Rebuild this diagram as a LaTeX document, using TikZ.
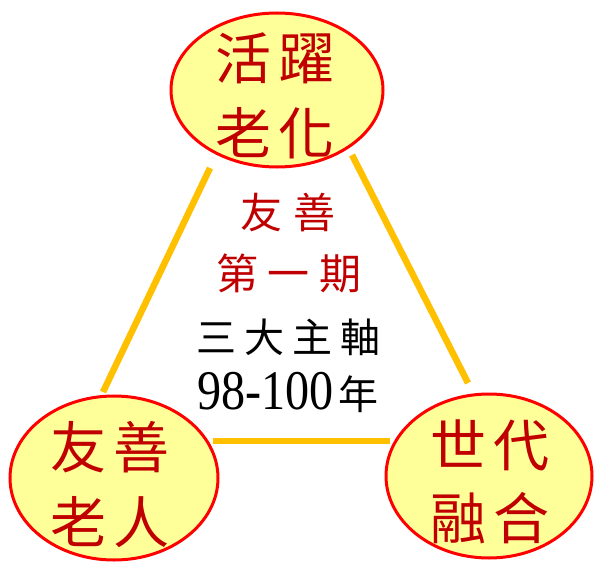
\documentclass[tikz,border=0pt]{standalone}
\usepackage{fontspec}
\usepackage{graphicx}
\newfontfamily\cjk{Noto Sans CJK TC}
\newfontfamily\digits{Liberation Serif}
\usetikzlibrary{shapes.geometric}
\definecolor{fillyel}{HTML}{FFFF99}
\definecolor{bordred}{HTML}{FF0000}
\definecolor{txtred}{HTML}{C00000}
\definecolor{lineyel}{HTML}{FFC000}
\begin{document}
\begin{tikzpicture}[x=1pt,y=-1pt,
  bubble/.style={draw=bordred, line width=3pt, fill=fillyel},
  bubbletext/.style={text=txtred, font=\cjk\fontsize{56}{60}\selectfont, align=center, inner sep=0pt},
  conn/.style={draw=lineyel, line width=6.5pt},
  redline/.style={text=txtred, font=\cjk\fontsize{42}{44}\selectfont, inner sep=0pt},
  blackline/.style={text=black, font=\cjk\fontsize{40}{44}\selectfont, inner sep=0pt}]
\useasboundingbox (0,0) rectangle (597,567);
\fill[white] (0,0) rectangle (597,567);
% connectors
\coordinate (l1) at (210,168);
\coordinate (l2) at (103,392);
\coordinate (r1) at (352,155);
\coordinate (r2) at (468,383);
\coordinate (b1) at (213,441);
\coordinate (b2) at (390,441);
\draw[conn] (l1) -- (l2);
\draw[conn] (r1) -- (r2);
\draw[conn] (b1) -- (b2);
% ellipses
\path[bubble] (277,90) ellipse [x radius=106, y radius=77];
\path[bubble] (114,478) ellipse [x radius=104, y radius=82];
\path[bubble] (489,476) ellipse [x radius=103, y radius=82];
% bubble texts
\node[bubbletext] (t1) at (275,58) {活\hspace{8pt}躍};
\node[bubbletext] (t2) at (275,133) {老\hspace{8pt}化};
\node[bubbletext] (t3) at (110,447) {友\hspace{8pt}善};
\node[bubbletext] (t4) at (110,522) {老\hspace{8pt}人};
\node[bubbletext] (t5) at (490,445) {世\hspace{8pt}代};
\node[bubbletext] (t6) at (490,518) {融\hspace{8pt}合};
% centre text
\node[redline] (c1) at (288,212) {友\hspace{12pt}善};
\node[redline] (c2) at (289,273) {第\hspace{10pt}一\hspace{10pt}期};
\node[blackline] (c3) at (288,337) {三\hspace{8pt}大\hspace{8pt}主\hspace{8pt}軸};
\node[blackline] (c4) at (288,392) {\scalebox{0.86}[1]{\digits\fontsize{56}{56}\selectfont 98-100}\hspace{5pt}年};
\end{tikzpicture}
\end{document}
